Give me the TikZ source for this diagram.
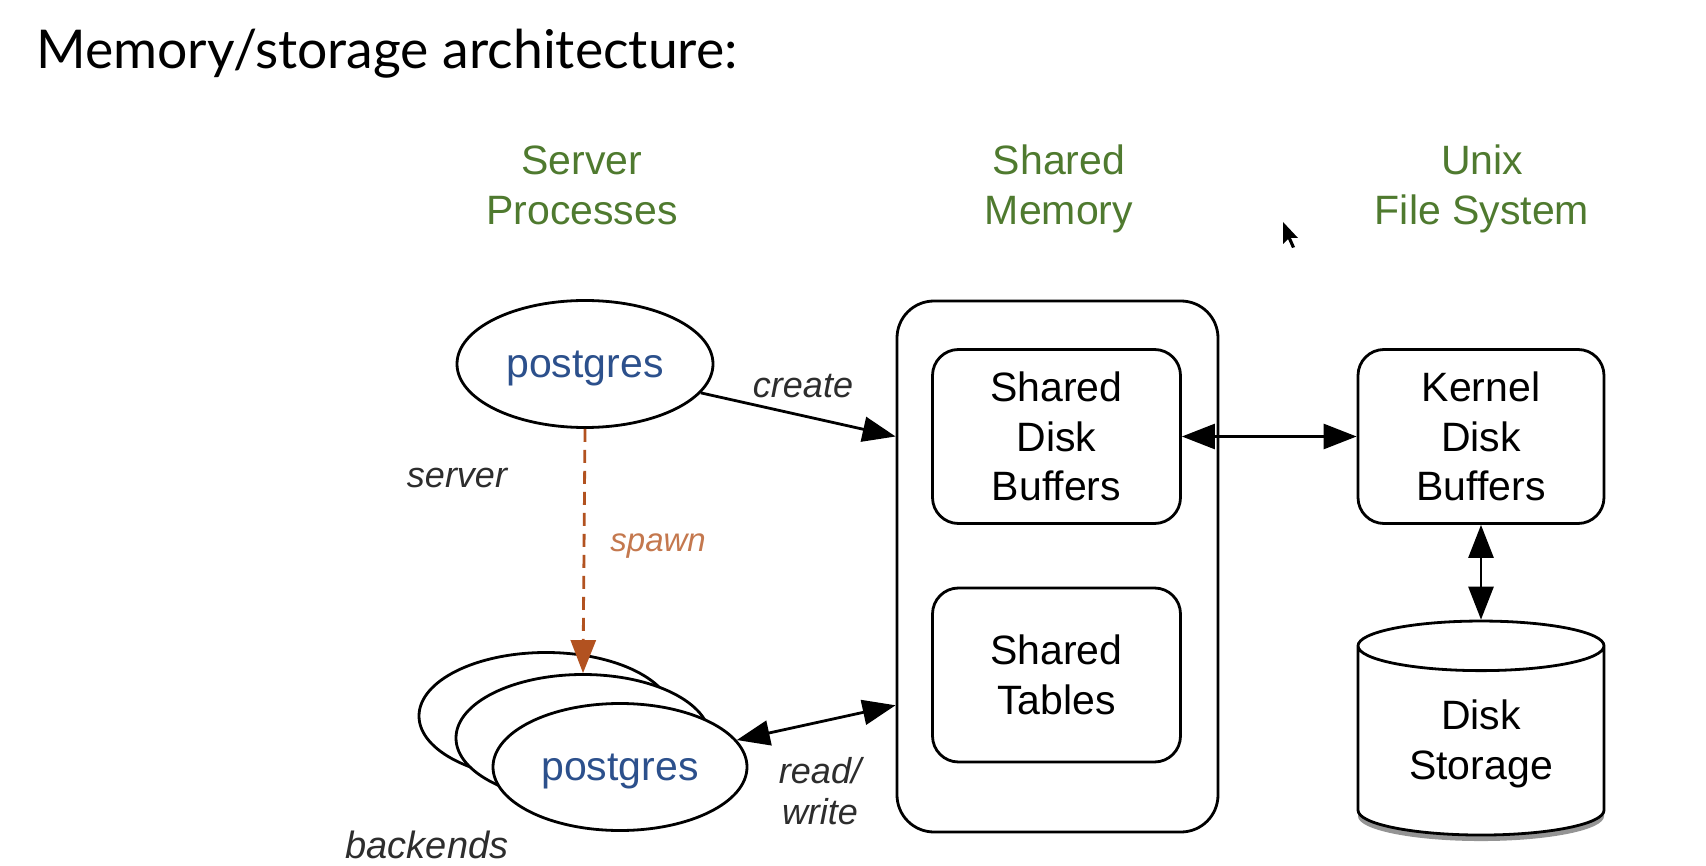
\documentclass[tikz,border=0pt]{standalone}
\usepackage{fontspec}
\setmainfont{Liberation Sans}
\newfontfamily\latofont{Lato}
\usetikzlibrary{positioning, calc, arrows.meta, shapes.geometric, shadows}

\definecolor{hdrgreen}{RGB}{79,122,47}
\definecolor{pgblue}{RGB}{44,80,140}
\definecolor{spawnorange}{RGB}{178,82,32}
\definecolor{spawntext}{RGB}{196,120,78}
\definecolor{lblgray}{RGB}{45,45,45}

\begin{document}
\begin{tikzpicture}[x=1pt, y=-1pt, line width=2.8pt,
>={Triangle[length=33pt, width=25pt]},
proc/.style={ellipse, draw, fill=white, inner sep=0pt, minimum width=254pt, minimum height=127pt, text depth=0pt, text=pgblue, font=\fontsize{41}{49}\selectfont},
membox/.style={rectangle, draw, rounded corners=26pt, fill=white, align=center, minimum width=248pt, minimum height=174pt, font=\fontsize{41}{49.5}\selectfont},
head/.style={align=center, text=hdrgreen, font=\fontsize{41}{50}\selectfont},
lbl/.style={align=center, inner sep=0pt, text=lblgray, font=\fontsize{36}{41}\selectfont\itshape}]
\useasboundingbox (0,0) rectangle (1706,866);

\node[anchor=base west, inner sep=0pt, font=\latofont\fontsize{53.5}{60}\selectfont] (title) at (35,69) {Memory/storage architecture:};

\node[head, anchor=base] (hserver) at (582,225) {Server\\Processes};
\node[head, anchor=base] (hshared) at (1059,225) {Shared\\Memory};
\node[head, anchor=base] (hunix) at (1482,225) {Unix\\File System};

% server processes
\node[proc, minimum width=256pt] (server) at (585,364) {postgres};
\node[proc] (back3) at (546,716) {};
\node[proc] (back2) at (583,738) {};
\node[proc] (back1) at (620,767) {postgres};

% shared memory
\node[draw, rounded corners=37pt, minimum width=321pt, minimum height=531pt] (shmem) at (1057.5,566.5) {};
\node[membox] (sdb) at (1056.5,436.5) {Shared\\Disk\\Buffers};
\node[membox] (stab) at (1056.5,675) {Shared\\Tables};

% unix file system
\node[membox, minimum width=246pt] (kdb) at (1481,436.5) {Kernel\\Disk\\Buffers};
\node[cylinder, shape border rotate=90, aspect=0.33, draw, fill=white, minimum width=246pt, minimum height=214pt, align=center, font=\fontsize{41}{49.5}\selectfont,
  drop shadow={shadow xshift=0pt, shadow yshift=-6pt, opacity=0.6, fill=black!70}] (disk) at (1481,744) {Disk\\Storage};

\coordinate (rw) at ($(shmem.south west)!0.24!(shmem.north west)$);

\draw[->] (server.-14) -- (sdb -| shmem.west);
\draw[->, spawnorange, dash pattern=on 13pt off 8pt] (server.south) -- (back2.north);
\draw[<->] (back1.13) -- (rw);
\draw[<->] (sdb.east) -- (kdb.west);
\draw[<->] (kdb) -- (disk);

\node[lbl] (lcreate) at (803,386) {create};
\node[lbl] (lserver) at (457,478) {server};
\node[lbl, text=spawntext, anchor=west, font=\fontsize{33}{38}\selectfont\itshape] (lspawn) at (609,546) {spawn};
\node[lbl] (lrw) at (820,791) {read/\\write};
\node[lbl, font=\fontsize{38}{42}\selectfont\itshape] (lback) at (427,845) {backends};

% mouse pointer
\fill[line width=1pt] (1283,222) -- (1283,244) -- (1288,239) -- (1292,248) -- (1295,247) -- (1291,238) -- (1298,238) -- cycle;
\end{tikzpicture}
\end{document}
